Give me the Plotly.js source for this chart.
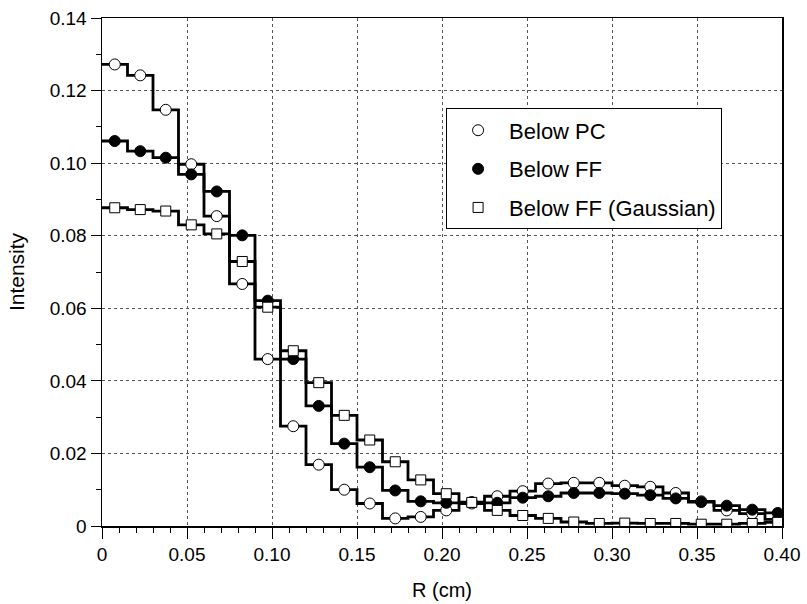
<!DOCTYPE html>
<html>
<head>
<meta charset="utf-8">
<script src="https://cdn.plot.ly/plotly-3.0.1.min.js"></script>
<style>html,body{margin:0;padding:0;background:#fff;}</style>
</head>
<body>
<div id="chart" style="width:807px;height:604px;"></div>
<script>
// Bin centres (cm), bin width 0.015 cm
var rCenters = [0.0075, 0.0225, 0.0375, 0.0525, 0.0675, 0.0825, 0.0975, 0.1125, 0.1275, 0.1425,
                0.1575, 0.1725, 0.1875, 0.2025, 0.2175, 0.2325, 0.2475, 0.2625, 0.2775, 0.2925,
                0.3075, 0.3225, 0.3375, 0.3525, 0.3675, 0.3825, 0.3975];
var binWidth = 0.015;

var belowPC = [0.1272, 0.1242, 0.1147, 0.0997, 0.0854, 0.0667, 0.0460, 0.0275, 0.0169, 0.0100,
               0.0062, 0.0021, 0.0025, 0.0043, 0.0062, 0.0082, 0.0096, 0.0117, 0.0119, 0.0119,
               0.0111, 0.0108, 0.0091, 0.0068, 0.0043, 0.0034, 0.0018];
var belowFF = [0.1061, 0.1033, 0.1015, 0.0969, 0.0922, 0.0801, 0.0621, 0.0460, 0.0331, 0.0227,
               0.0162, 0.0098, 0.0068, 0.0064, 0.0066, 0.0064, 0.0078, 0.0082, 0.0091, 0.0091,
               0.0089, 0.0085, 0.0076, 0.0066, 0.0056, 0.0045, 0.0036];
var belowFFGauss = [0.0877, 0.0872, 0.0868, 0.0830, 0.0805, 0.0729, 0.0603, 0.0483, 0.0395, 0.0305,
                    0.0237, 0.0177, 0.0127, 0.0089, 0.0065, 0.0043, 0.0029, 0.0021, 0.0011, 0.0007,
                    0.0008, 0.0007, 0.0007, 0.0005, 0.0005, 0.0007, 0.0010];

var seriesNames = ['Below PC', 'Below FF', 'Below FF (Gaussian)'];

var xTickVals = [0, 0.05, 0.10, 0.15, 0.20, 0.25, 0.30, 0.35, 0.40];
var xTickText = ['0', '0.05', '0.10', '0.15', '0.20', '0.25', '0.30', '0.35', '0.40'];
var yTickVals = [0, 0.02, 0.04, 0.06, 0.08, 0.10, 0.12, 0.14];
var yTickText = ['0', '0.02', '0.04', '0.06', '0.08', '0.10', '0.12', '0.14'];

// step outline: left edges plus final right edge
var edges = rCenters.map(function (c) { return c - binWidth / 2; });
edges.push(rCenters[rCenters.length - 1] + binWidth / 2);
function stepY(v) { return v.concat([v[v.length - 1]]); }

var FONT = 'Liberation Sans, Arial, Helvetica, sans-serif';

function stepTrace(v) {
  return {x: edges, y: stepY(v), type: 'scatter', mode: 'lines',
          line: {shape: 'hv', color: '#000', width: 2.8},
          showlegend: false, hoverinfo: 'skip'};
}
function markerTrace(v, name, symbol, fill, size, group) {
  return {x: rCenters, y: v, type: 'scatter', mode: 'markers', name: name,
          legendgroup: group,
          marker: {symbol: symbol, size: size, color: fill,
                   line: {color: '#000', width: 1}}};
}

var data = [
  stepTrace(belowPC), stepTrace(belowFF), stepTrace(belowFFGauss),
  markerTrace(belowPC, seriesNames[0], 'circle', '#fff', 11, 'g1'),
  markerTrace(belowFF, seriesNames[1], 'circle', '#000', 11, 'g2'),
  markerTrace(belowFFGauss, seriesNames[2], 'square', '#fff', 10, 'g3')
];

var axisCommon = {
  showline: true, linecolor: '#000', linewidth: 1.5, mirror: true,
  ticks: 'outside', tickcolor: '#000', tickwidth: 1,
  showgrid: true, gridcolor: '#555', gridwidth: 1, griddash: 'dot',
  zeroline: false,
  tickfont: {family: FONT, size: 19, color: '#000'}
};

var layout = {
  width: 807, height: 604,
  margin: {l: 102, r: 25, t: 18, b: 78},
  paper_bgcolor: '#fff', plot_bgcolor: '#fff',
  font: {family: FONT, color: '#000'},
  xaxis: Object.assign({}, axisCommon, {
    range: [0, 0.4], tickmode: 'array', tickvals: xTickVals, ticktext: xTickText,
    ticklen: 11,
    minor: {tickmode: 'linear', tick0: 0, dtick: 0.01, ticks: 'outside', ticklen: 5,
            tickcolor: '#000', tickwidth: 1, showgrid: false},
    title: {text: 'R (cm)', font: {family: FONT, size: 20, color: '#000'}, standoff: 18}
  }),
  yaxis: Object.assign({}, axisCommon, {
    range: [0, 0.14], tickmode: 'array', tickvals: yTickVals, ticktext: yTickText,
    ticklen: 10,
    minor: {tickmode: 'linear', tick0: 0, dtick: 0.01, ticks: 'outside', ticklen: 5,
            tickcolor: '#000', tickwidth: 1, showgrid: false},
    title: {text: 'Intensity', font: {family: FONT, size: 21, color: '#000'}, standoff: 19}
  }),
  legend: {
    x: 0.506, y: 0.822, xanchor: 'left', yanchor: 'top',
    bgcolor: '#fff', bordercolor: '#000', borderwidth: 1,
    font: {family: FONT, size: 22, color: '#000'},
    itemwidth: 52,
    traceorder: 'grouped', tracegroupgap: 7
  },
  showlegend: true
};

Plotly.newPlot('chart', data, layout, {displayModeBar: false, staticPlot: true});
</script>
</body>
</html>
